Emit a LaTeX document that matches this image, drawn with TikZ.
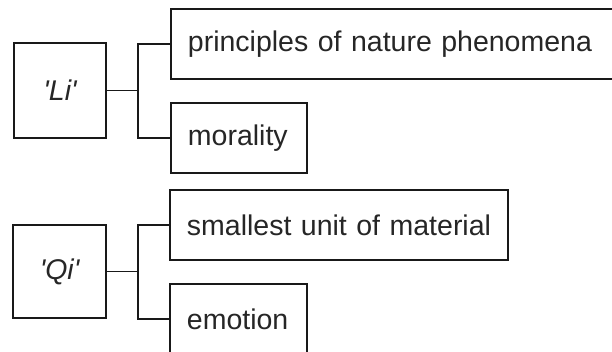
\documentclass[tikz,border=0pt]{standalone}
\usepackage{fontspec}
\setmainfont{Liberation Sans}
\begin{document}
\begin{tikzpicture}[x=1pt,y=-1pt,
  box/.style={draw=black!90, line width=1.9pt, fill=white, inner sep=0pt,
    font=\fontsize{28.5}{32}\selectfont, text=black!85},
  termbox/.style={box, minimum height=#1, font=\fontsize{28.5}{32}\selectfont\itshape},
  itembox/.style={box, anchor=west, minimum height=70pt, inner xsep=17pt,
    text width=#1, align=left},
  link/.style={draw=black!90, line width=1.9pt}]
  \useasboundingbox (0,0) rectangle (612,352);
  \clip (0,0) rectangle (612,352);

  % 'Li' and its two meanings
  \node[termbox=95pt, minimum width=92pt] (li) at (60,90.5) {\textquotesingle Li\textquotesingle};
  \node[itembox=412pt] (nature) at (170,44) {\mbox{principles of nature phenomena}};
  \node[itembox=102pt] (moral) at (170,138) {\mbox{morality}};
  \coordinate (lij) at ([xshift=31pt]li.east);
  \draw[link] (li.east) -- (lij);
  \draw[link] (nature.west) -| (lij) |- (moral.west);

  % 'Qi' and its two meanings
  \node[termbox=93pt, minimum width=93pt] (qi) at (59.5,271.5) {\textquotesingle Qi\textquotesingle};
  \node[itembox=304pt] (unit) at (169,225) {\mbox{smallest unit of material}};
  \node[itembox=103pt] (emo) at (169,319) {\mbox{emotion}};
  \coordinate (qij) at ([xshift=31pt]qi.east);
  \draw[link] (qi.east) -- (qij);
  \draw[link] (unit.west) -| (qij) |- (emo.west);
\end{tikzpicture}
\end{document}
